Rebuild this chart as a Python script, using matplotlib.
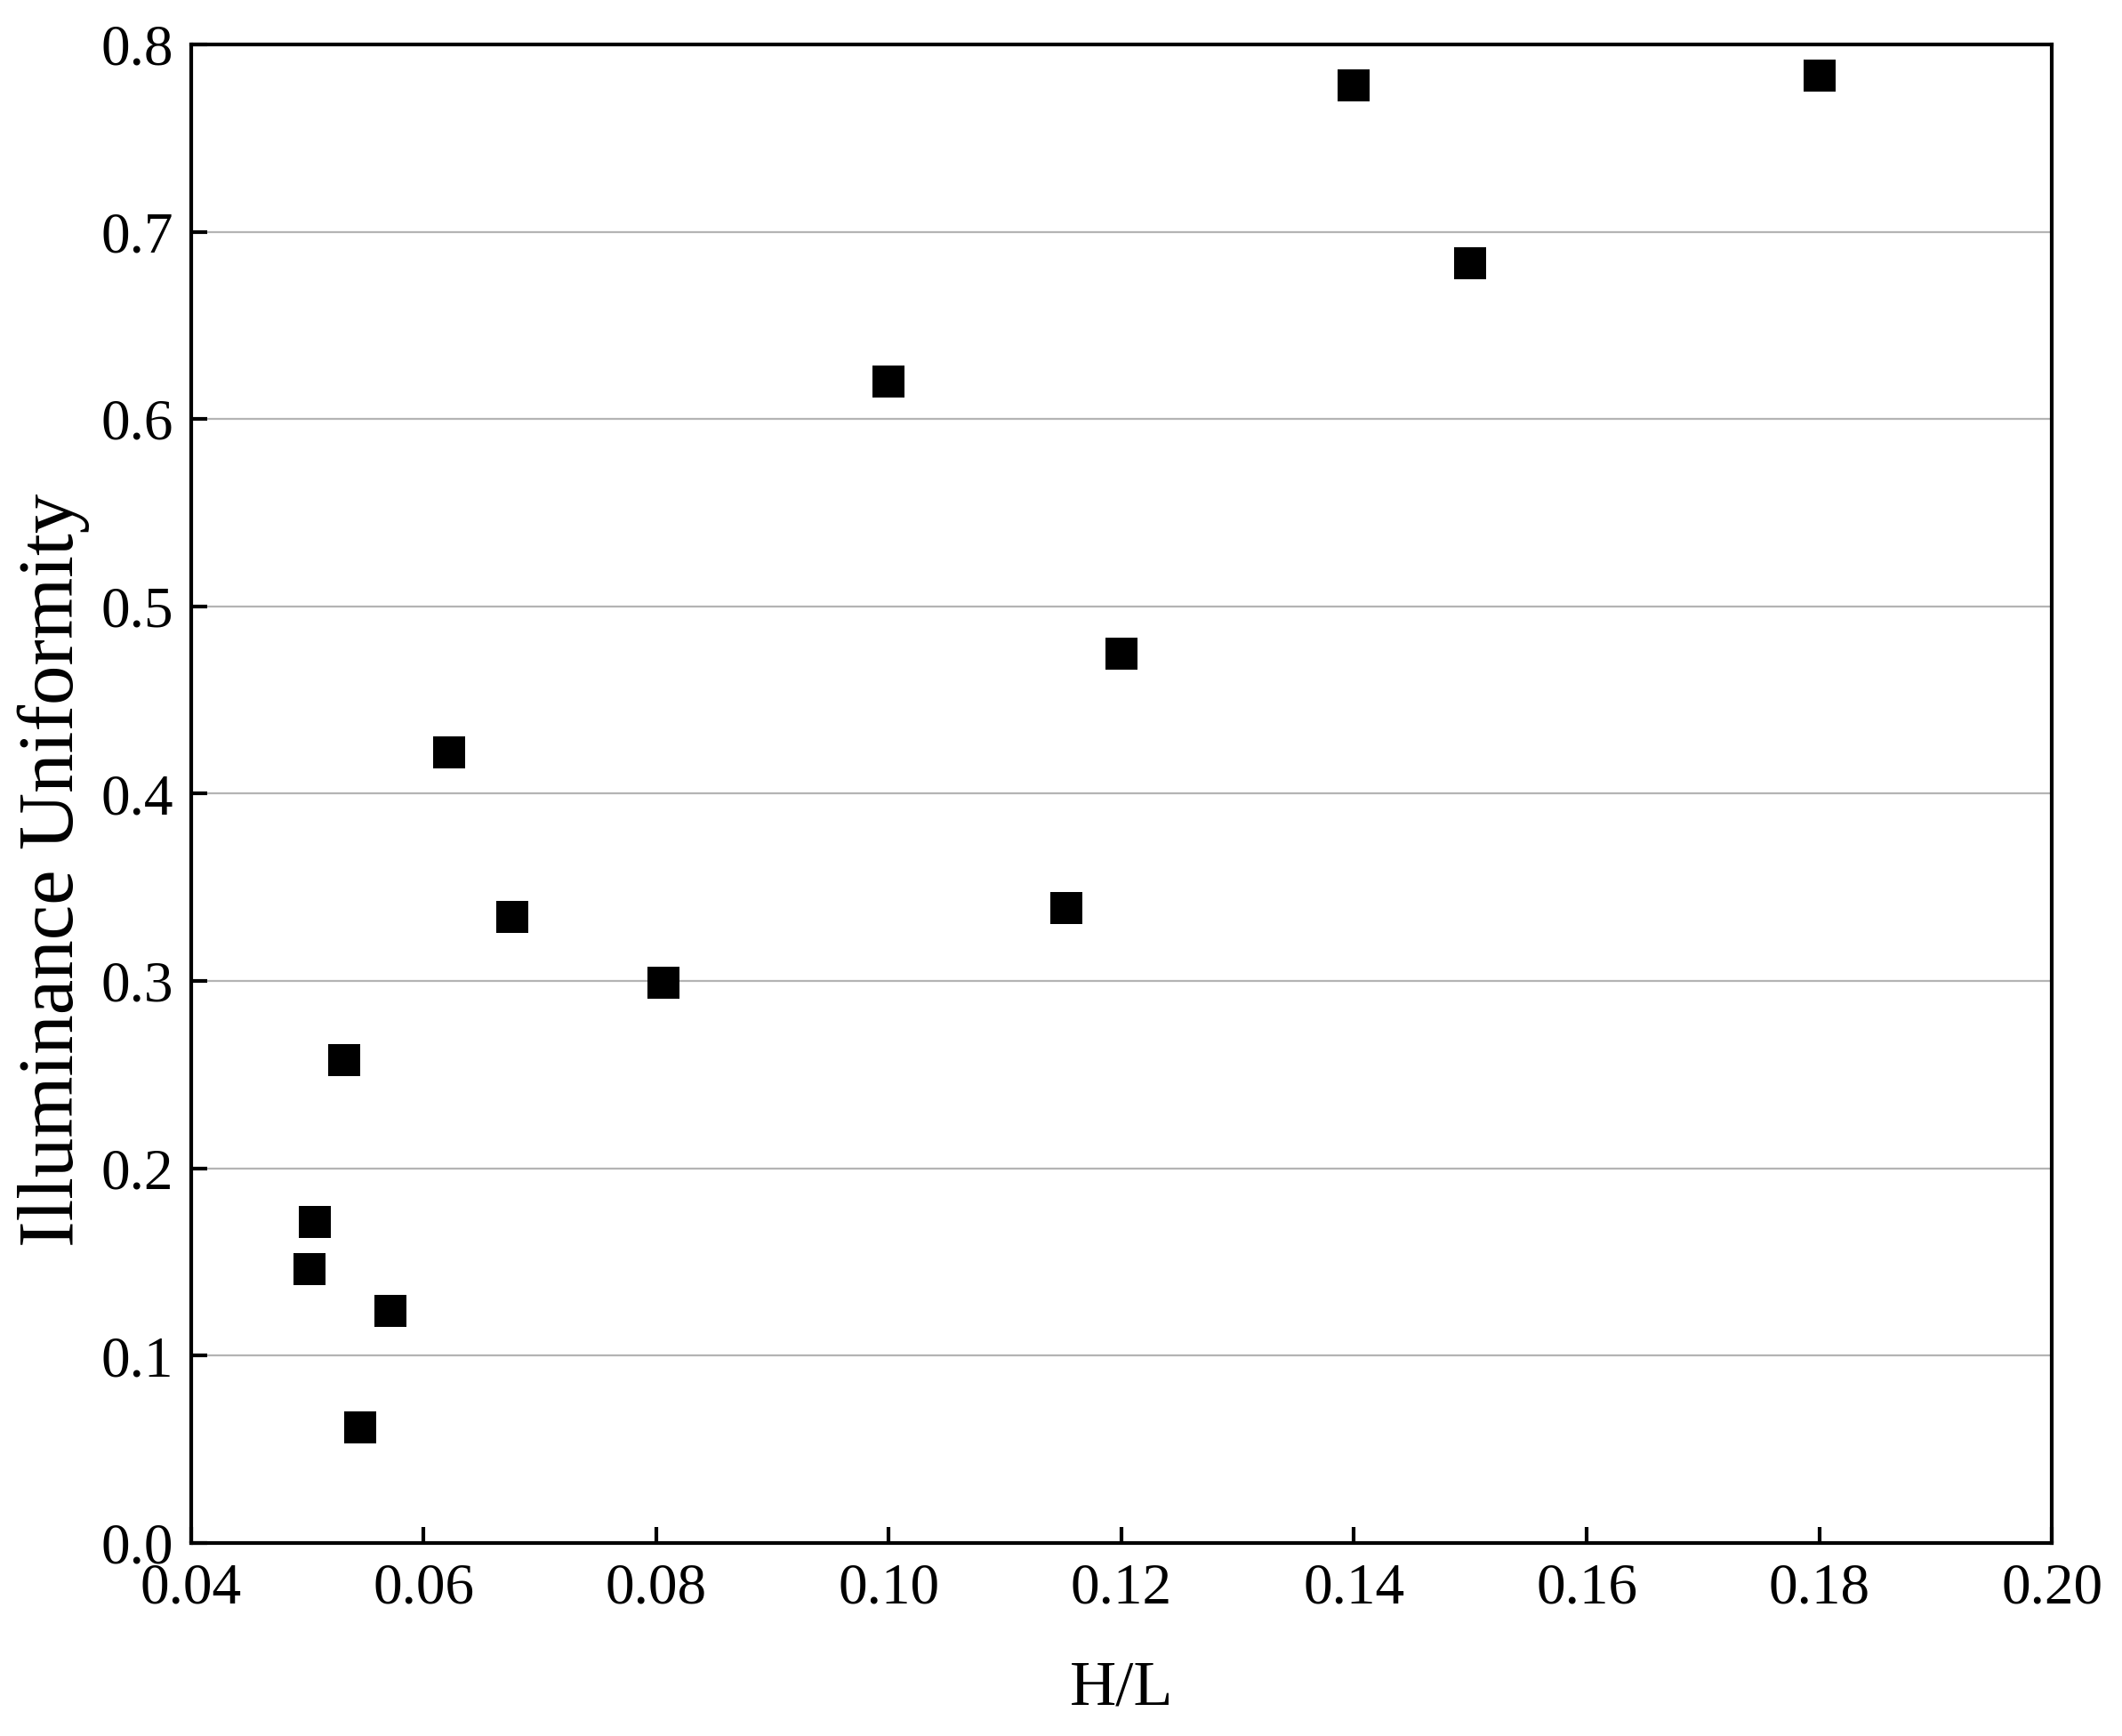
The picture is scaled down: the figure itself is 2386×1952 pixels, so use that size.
import matplotlib
matplotlib.use("Agg")
import matplotlib.pyplot as plt

# Data
hl = [0.0502, 0.0507, 0.0532, 0.0546, 0.0572, 0.0622, 0.0676, 0.0806,
      0.1000, 0.1153, 0.1200, 0.1400, 0.1500, 0.1800]
uniformity = [0.1464, 0.1714, 0.2577, 0.0617, 0.1239, 0.4221, 0.3342, 0.2991,
              0.6200, 0.3390, 0.4747, 0.7780, 0.6830, 0.7834]

x_ticks = [0.04, 0.06, 0.08, 0.10, 0.12, 0.14, 0.16, 0.18, 0.20]
y_ticks = [0.0, 0.1, 0.2, 0.3, 0.4, 0.5, 0.6, 0.7, 0.8]
x_ticklabels = ["0.04", "0.06", "0.08", "0.10", "0.12", "0.14", "0.16", "0.18", "0.20"]
y_ticklabels = ["0.0", "0.1", "0.2", "0.3", "0.4", "0.5", "0.6", "0.7", "0.8"]

plt.rcParams['font.family'] = ['Liberation Serif', 'DejaVu Serif']

fig = plt.figure(figsize=(23.86, 19.52), dpi=100)
ax = fig.add_axes([0.0899, 0.1112, 0.967 - 0.0899, 0.9744 - 0.1112])

ax.plot(hl, uniformity, linestyle='none', marker='s', markersize=26,
        color='black', markeredgewidth=0, zorder=3)

ax.set_xlim(0.04, 0.20)
ax.set_ylim(0.0, 0.8)
ax.set_xticks(x_ticks)
ax.set_xticklabels(x_ticklabels)
ax.set_yticks(y_ticks)
ax.set_yticklabels(y_ticklabels)

ax.yaxis.grid(True, color='#b4b4b4', linewidth=1.6, zorder=0)
ax.xaxis.grid(False)
ax.set_axisbelow(True)

for s in ax.spines.values():
    s.set_linewidth(3.0)
    s.set_color('black')

ax.tick_params(axis='both', direction='in', length=13, width=3.0,
               labelsize=47, colors='black')
ax.tick_params(axis='x', pad=16)
ax.tick_params(axis='y', pad=14)
ax.tick_params(top=False, right=False)

ax.set_xlabel('H/L', fontsize=52, labelpad=36)
ax.set_ylabel('Illuminance Uniformity', fontsize=64)
ax.yaxis.set_label_coords(-0.054, 0.449)

fig.savefig('out.png', dpi=100, facecolor='white')
